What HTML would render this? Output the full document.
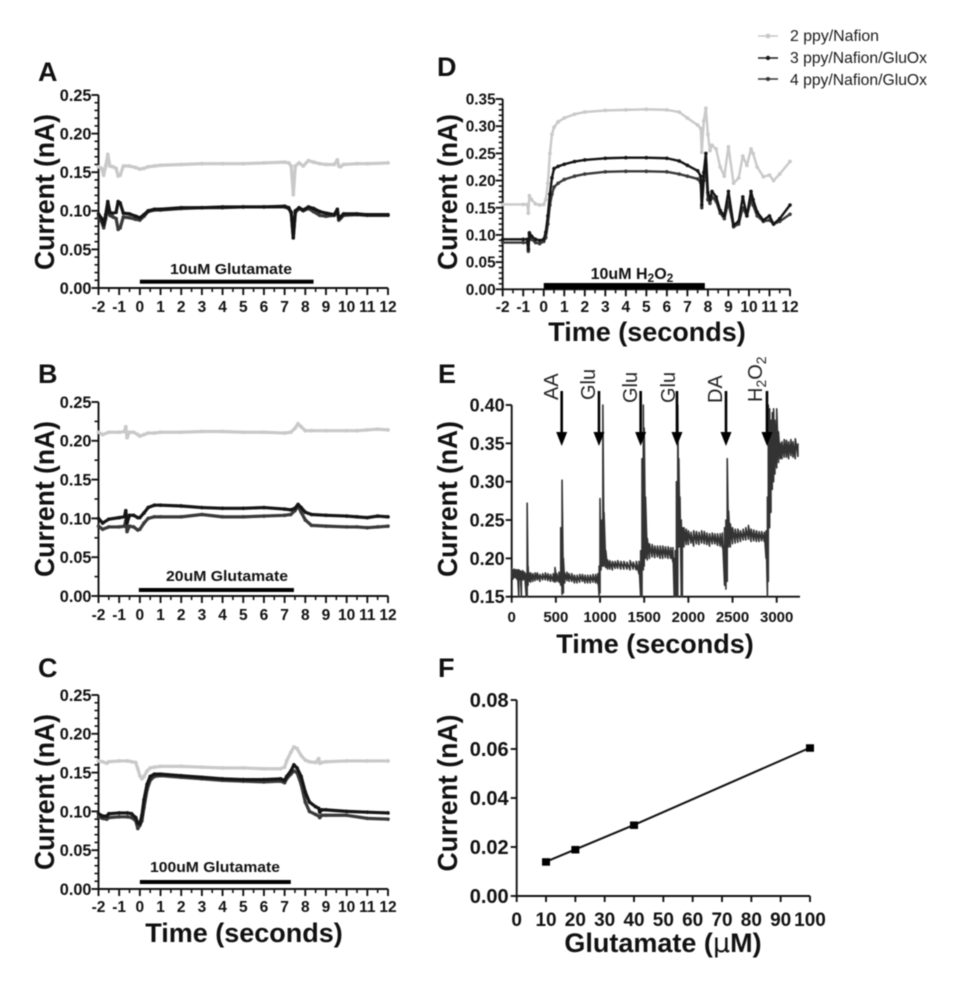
<!DOCTYPE html>
<html>
<head>
<meta charset="utf-8">
<title>Biosensor current recordings</title>
<style>
html,body{margin:0;padding:0;background:#fff;width:954px;height:1000px;overflow:hidden}
svg{display:block;filter:blur(.55px)}
text{font-family:"Liberation Sans",Arial,sans-serif;fill:#111}
.tick{font-weight:bold}
.title{font-weight:bold;font-size:27.5px}
.letter{font-weight:bold;font-size:27px}
.stim{font-weight:bold;font-size:15px}
.legend{font-size:15.8px;fill:#1a1a1a}
.inj{font-size:20px;fill:#222}
</style>
</head>
<body>
<svg id="figure" xmlns="http://www.w3.org/2000/svg" width="954" height="1000" viewBox="0 0 954 1000">
  <rect x="0" y="0" width="954" height="1000" fill="#fff"/>

  <text class="letter" x="38" y="81">A</text>
  <text class="letter" x="38" y="383">B</text>
  <text class="letter" x="38" y="677">C</text>
  <text class="letter" x="437" y="76">D</text>
  <text class="letter" x="438" y="383">E</text>
  <text class="letter" x="438" y="677">F</text>

  <text class="title" transform="translate(54,192) rotate(-90)" text-anchor="middle" textLength="156" lengthAdjust="spacingAndGlyphs">Current (nA)</text>
  <text class="title" transform="translate(54,499) rotate(-90)" text-anchor="middle" textLength="156" lengthAdjust="spacingAndGlyphs">Current (nA)</text>
  <text class="title" transform="translate(54,792) rotate(-90)" text-anchor="middle" textLength="156" lengthAdjust="spacingAndGlyphs">Current (nA)</text>
  <text class="title" transform="translate(457,192) rotate(-90)" text-anchor="middle" textLength="156" lengthAdjust="spacingAndGlyphs">Current (nA)</text>
  <text class="title" transform="translate(457,499) rotate(-90)" text-anchor="middle" textLength="156" lengthAdjust="spacingAndGlyphs">Current (nA)</text>
  <text class="title" transform="translate(457,793) rotate(-90)" text-anchor="middle" textLength="157" lengthAdjust="spacingAndGlyphs">Current (nA)</text>

  <text class="title" x="244" y="942" text-anchor="middle" style="font-size:27px">Time (seconds)</text>
  <text class="title" x="647" y="341" text-anchor="middle" style="font-size:27px">Time (seconds)</text>
  <text class="title" x="655" y="653" text-anchor="middle" style="font-size:27px">Time (seconds)</text>
  <text class="title" x="663" y="952" text-anchor="middle" style="font-size:27px">Glutamate (<tspan font-family="'DejaVu Sans',sans-serif" font-weight="normal">μ</tspan>M)</text>

  <text class="stim" x="231" y="274" text-anchor="middle" textLength="122" lengthAdjust="spacingAndGlyphs">10uM Glutamate</text>
  <text class="stim" x="227" y="581" text-anchor="middle" textLength="122" lengthAdjust="spacingAndGlyphs">20uM Glutamate</text>
  <text class="stim" x="215" y="872" text-anchor="middle" textLength="130" lengthAdjust="spacingAndGlyphs">100uM Glutamate</text>
  <text class="stim" x="632" y="279" text-anchor="middle" style="font-size:16px">10uM H<tspan dy="3" font-size="12">2</tspan><tspan dy="-3">O</tspan><tspan dy="3" font-size="12">2</tspan></text>

  <text class="inj" transform="translate(558,400) rotate(-90)">AA</text>
  <text class="inj" transform="translate(595,400) rotate(-90)">Glu</text>
  <text class="inj" transform="translate(637,403) rotate(-90)">Glu</text>
  <text class="inj" transform="translate(675,403) rotate(-90)">Glu</text>
  <text class="inj" transform="translate(722,403) rotate(-90)">DA</text>
  <text class="inj" transform="translate(762,402) rotate(-90)">H<tspan dy="4" font-size="14">2</tspan><tspan dy="-4">O</tspan><tspan dy="4" font-size="14">2</tspan></text>

  <g>
    <line x1="758" y1="36" x2="778" y2="36" stroke="#c8c8c8" stroke-width="1.5"/>
    <circle cx="768" cy="36" r="2.4" fill="#c8c8c8"/>
    <text class="legend" x="790" y="41" textLength="89" lengthAdjust="spacingAndGlyphs">2 ppy/Nafion</text>
    <line x1="758" y1="58" x2="778" y2="58" stroke="#1a1a1a" stroke-width="1.5"/>
    <circle cx="768" cy="58" r="2.2" fill="#1a1a1a"/>
    <text class="legend" x="790" y="63" textLength="137" lengthAdjust="spacingAndGlyphs">3 ppy/Nafion/GluOx</text>
    <line x1="758" y1="79" x2="778" y2="79" stroke="#333" stroke-width="1.5"/>
    <circle cx="768" cy="79" r="2" fill="#333"/>
    <text class="legend" x="790" y="85" textLength="137" lengthAdjust="spacingAndGlyphs">4 ppy/Nafion/GluOx</text>
  </g>
</svg>

<script>
// ---------- shared axis labels ----------
var timeTicks = [-2,-1,0,1,2,3,4,5,6,7,8,9,10,11,12];
var glutamateYTicks = [0,0.05,0.10,0.15,0.20,0.25];
var peroxideYTicks = [0,0.05,0.10,0.15,0.20,0.25,0.30,0.35];
var amperogramYTicks = [0.15,0.20,0.25,0.30,0.35,0.40];
var amperogramXTicks = [0,500,1000,1500,2000,2500,3000];
var calibrationYTicks = [0,0.02,0.04,0.06,0.08];
var calibrationXTicks = [0,10,20,30,40,50,60,70,80,90,100];

// ---------- panel A: 10 uM glutamate ----------
var aTime = [-2,-1.85,-1.75,-1.65,-1.55,-1.45,-1.3,-1.15,-1.05,-0.95,-0.8,-0.5,-0.2,0,0.2,0.4,0.7,1,2,3,4,5,6,7,7.2,7.32,7.42,7.52,7.7,7.9,8.15,8.4,8.7,9,9.4,9.55,9.62,9.7,9.85,10.5,11,12];
var aPpy2 = [.157,.155,.146,.158,.173,.158,.157,.155,.145,.146,.158,.158,.156,.154,.155,.157,.158,.159,.160,.161,.161,.161,.162,.163,.162,.158,.121,.158,.162,.158,.165,.163,.161,.160,.160,.166,.158,.157,.160,.161,.161,.162];
var aPpy3 = [.096,.090,.082,.095,.112,.098,.097,.098,.112,.110,.097,.096,.093,.091,.095,.100,.102,.102,.104,.104,.105,.105,.105,.106,.104,.098,.065,.100,.104,.101,.105,.103,.099,.097,.095,.102,.090,.092,.096,.096,.095,.095];
var aPpy4 = [.092,.086,.078,.090,.108,.094,.092,.090,.076,.078,.092,.091,.089,.088,.093,.099,.101,.101,.103,.104,.104,.105,.105,.105,.103,.097,.066,.098,.103,.100,.103,.099,.094,.093,.094,.100,.088,.090,.094,.095,.094,.094];
var aStimulus = [0,8.4];

// ---------- panel B: 20 uM glutamate ----------
var bTime = [-2,-1.8,-1.5,-1,-0.75,-0.68,-0.62,-0.5,-0.3,-0.1,0,0.2,0.4,0.7,1,2,3,4,5,6,7,7.3,7.5,7.65,7.8,8,8.3,9,10,10.5,11,11.5,12];
var bPpy2 = [.211,.208,.211,.211,.212,.218,.204,.211,.211,.208,.206,.208,.210,.210,.211,.211,.212,.212,.211,.211,.210,.211,.216,.222,.218,.213,.213,.213,.213,.213,.214,.215,.214];
var bPpy3 = [.100,.094,.099,.101,.102,.110,.094,.104,.104,.101,.101,.107,.114,.117,.117,.116,.114,.113,.113,.114,.112,.111,.113,.118,.114,.108,.105,.104,.103,.102,.101,.103,.102];
var bPpy4 = [.090,.086,.089,.089,.090,.097,.083,.090,.089,.085,.086,.094,.100,.102,.102,.102,.105,.102,.102,.103,.104,.105,.110,.116,.108,.098,.091,.090,.089,.089,.088,.089,.090];
var bStimulus = [-0.05,7.45];

// ---------- panel C: 100 uM glutamate ----------
var cTime = [-2,-1.8,-1.6,-1.5,-1,-0.6,-0.4,-0.2,-0.1,0,0.1,0.2,0.35,0.5,0.7,1,2,3,4,5,6,6.8,7,7.1,7.3,7.45,7.6,7.8,8,8.2,8.5,8.65,8.7,8.8,9,10,11,12];
var cPpy2 = [.165,.164,.162,.164,.165,.165,.164,.163,.155,.146,.142,.145,.152,.156,.157,.158,.158,.157,.156,.156,.155,.155,.157,.165,.176,.183,.181,.172,.166,.164,.163,.168,.162,.163,.164,.165,.165,.165];
var cPpy3 = [.097,.094,.094,.097,.098,.098,.097,.092,.085,.084,.095,.115,.135,.145,.148,.148,.146,.144,.142,.141,.141,.142,.140,.145,.152,.160,.156,.145,.125,.112,.106,.104,.099,.102,.102,.100,.099,.098];
var cPpy4 = [.093,.091,.090,.092,.093,.093,.092,.088,.078,.082,.088,.105,.128,.140,.145,.146,.144,.142,.140,.139,.138,.139,.137,.142,.148,.152,.150,.135,.112,.100,.096,.094,.092,.095,.095,.095,.091,.090];
var cStimulus = [0,7.3];

// ---------- panel D: 10 uM H2O2 ----------
var dTime = [-2,-1,-0.8,-0.75,-0.7,-0.6,-0.4,-0.2,0,0.1,0.2,0.3,0.4,0.5,0.7,1,1.5,2,3,4,5,6,6.6,7,7.5,7.65,7.7,7.8,7.9,8,8.1,8.2,8.4,8.6,8.8,9,9.25,9.5,9.7,9.9,10.1,10.2,10.4,10.7,11,11.2,11.5,12];
var dPpy2 = [.156,.156,.156,.140,.172,.165,.157,.155,.156,.165,.195,.250,.285,.298,.308,.315,.322,.326,.329,.330,.331,.330,.326,.315,.302,.296,.252,.310,.333,.285,.255,.265,.258,.225,.208,.262,.195,.205,.245,.228,.258,.250,.225,.207,.210,.200,.212,.235];
var dPpy3 = [.092,.092,.092,.074,.104,.098,.092,.090,.092,.105,.135,.175,.205,.222,.226,.230,.235,.238,.241,.242,.242,.241,.236,.228,.218,.208,.155,.215,.250,.178,.165,.180,.170,.145,.135,.180,.118,.125,.170,.135,.180,.165,.142,.127,.135,.120,.130,.155];
var dPpy4 = [.086,.086,.086,.070,.100,.092,.086,.084,.088,.095,.120,.155,.175,.188,.195,.202,.208,.212,.216,.217,.217,.216,.212,.208,.203,.196,.150,.200,.228,.165,.158,.170,.162,.140,.130,.160,.115,.120,.150,.135,.165,.155,.135,.125,.127,.120,.125,.138];
var dStimulus = [0,7.85];

// ---------- panel E: amperometric trace (low / high envelope of the noisy signal) ----------
var eTime = [0,15,30,50,65,80,95,110,125,145,165,175,185,195,215,240,265,290,320,350,380,410,440,470,490,510,535,555,570,585,600,625,650,680,710,740,770,800,830,860,890,920,950,975,990,1000,1012,1022,1032,1045,1065,1085,1110,1140,1170,1200,1235,1270,1305,1340,1375,1410,1440,1460,1475,1490,1500,1515,1535,1560,1590,1620,1650,1680,1710,1740,1770,1800,1825,1840,1852,1865,1880,1892,1905,1920,1932,1950,1975,2000,2030,2060,2090,2120,2150,2180,2210,2240,2270,2300,2330,2360,2385,2410,2425,2440,2455,2475,2500,2530,2560,2590,2620,2650,2680,2710,2740,2770,2800,2830,2860,2880,2895,2905,2920,2935,2950,2965,2980,3000,3020,3040,3060,3085,3110,3135,3160,3185,3210,3240];
var eLow = [.174,.173,.175,.174,.172,.150,.172,.150,.172,.172,.150,.150,.165,.170,.169,.170,.171,.172,.170,.172,.172,.171,.170,.170,.169,.170,.169,.165,.153,.155,.168,.171,.170,.170,.168,.168,.169,.170,.168,.168,.168,.169,.168,.167,.150,.155,.185,.190,.190,.190,.188,.186,.186,.185,.187,.187,.186,.186,.186,.185,.186,.185,.180,.150,.150,.185,.190,.200,.198,.200,.202,.201,.202,.200,.200,.201,.200,.200,.195,.150,.150,.150,.150,.215,.215,.150,.150,.215,.218,.218,.220,.216,.219,.218,.220,.219,.218,.216,.219,.219,.217,.216,.214,.165,.160,.170,.215,.215,.219,.220,.221,.222,.224,.224,.225,.222,.223,.222,.222,.223,.222,.200,.150,.170,.240,.260,.290,.300,.310,.318,.325,.330,.330,.332,.332,.330,.334,.332,.330,.333];
var eHigh = [.187,.185,.186,.185,.185,.185,.184,.183,.184,.182,.180,.272,.190,.181,.181,.180,.181,.181,.179,.180,.181,.180,.179,.180,.188,.180,.182,.240,.302,.200,.181,.182,.180,.180,.178,.178,.179,.179,.178,.178,.178,.179,.179,.180,.190,.278,.200,.250,.400,.260,.210,.198,.197,.196,.196,.197,.196,.196,.195,.197,.195,.196,.196,.210,.330,.400,.370,.280,.226,.219,.218,.216,.216,.216,.216,.215,.215,.214,.214,.200,.210,.300,.400,.330,.280,.250,.240,.240,.238,.236,.234,.236,.235,.234,.236,.235,.233,.232,.233,.232,.232,.232,.233,.240,.250,.330,.262,.245,.240,.238,.238,.236,.238,.240,.243,.238,.237,.236,.235,.235,.234,.236,.280,.400,.395,.380,.390,.395,.380,.395,.365,.350,.352,.355,.354,.352,.355,.352,.356,.350];
var eInjections = [566,988,1460,1871,2426,2890];

// ---------- panel F: calibration ----------
var fConcentration = [10,20,40,100];
var fCurrent = [0.014,0.019,0.029,0.0605];

var NS = 'http://www.w3.org/2000/svg';
var figure = document.getElementById('figure');

function add(tag, parent, attrs) {
  var el = document.createElementNS(NS, tag);
  for (var k in attrs) el.setAttribute(k, attrs[k]);
  parent.appendChild(el);
  return el;
}

function scale(d0, d1, r0, r1) {
  return function (v) { return r0 + (v - d0) * (r1 - r0) / (d1 - d0); };
}

function drawAxes(p) {
  var g = add('g', figure, {});
  
  

  var yLine = add('line', g, {x1: p.x0, y1: p.yTop, x2: p.x0, y2: p.yBase + 1, stroke: '#111', 'stroke-width': p.axisW});
  
  

  var xLine = add('line', g, {x1: p.x0 - 1, y1: p.yBase, x2: p.xEnd, y2: p.yBase, stroke: '#111', 'stroke-width': p.axisW});
  
  

  p.yTicks.forEach(function (v, i) {
    var y = p.sy(v);
    var t = add('line', g, {x1: p.x0 - p.major, y1: y, x2: p.x0, y2: y, stroke: '#111', 'stroke-width': p.axisW});
    
    
    var lab = add('text', g, {x: p.x0 - p.major - p.yGap, y: y + p.yFont * 0.36, 'text-anchor': 'end', 'class': 'tick', 'font-size': p.yFont});
    lab.textContent = v.toFixed(2);
    
    
    if (i < p.yTicks.length - 1 && p.yMinor > 0) {
      var next = p.yTicks[i + 1];
      for (var m = 1; m < p.yMinor; m++) {
        var my = p.sy(v + (next - v) * m / p.yMinor);
        var mt = add('line', g, {x1: p.x0 - 4, y1: my, x2: p.x0, y2: my, stroke: '#111', 'stroke-width': p.axisW * 0.85});
        
        
      }
    }
  });

  p.xTicks.forEach(function (v, i) {
    var x = p.sx(v);
    var t = add('line', g, {x1: x, y1: p.yBase, x2: x, y2: p.yBase + p.major, stroke: '#111', 'stroke-width': p.axisW});
    
    
    var lab = add('text', g, {x: x, y: p.xLabelY, 'text-anchor': 'middle', 'class': 'tick', 'font-size': p.xFont});
    lab.textContent = String(v);
    
    
    if (i < p.xTicks.length - 1 && p.xMinor) {
      var mx = p.sx((v + p.xTicks[i + 1]) / 2);
      var mt = add('line', g, {x1: mx, y1: p.yBase, x2: mx, y2: p.yBase + 4, stroke: '#111', 'stroke-width': p.axisW * 0.85});
      
      
    }
  });
}

function drawSeries(p, name, xs, ys, color, w, r) {
  var g = add('g', figure, {});
  
  
  var d = '';
  xs.forEach(function (x, i) {
    d += (i ? 'L' : 'M') + p.sx(x).toFixed(2) + ' ' + p.sy(ys[i]).toFixed(2);
  });
  var path = add('path', g, {d: d, fill: 'none', stroke: color, 'stroke-width': w, 'stroke-linejoin': 'round'});
  
  
  xs.forEach(function (x, i) {
    var c = add('circle', g, {cx: p.sx(x), cy: p.sy(ys[i]), r: r, fill: color});
    
    
  });
}

function drawStimulus(p, range, y, h) {
  var r = add('rect', figure, {x: p.sx(range[0]), y: y - h / 2, width: p.sx(range[1]) - p.sx(range[0]), height: h, fill: '#000'});
  
  
}

function timePanel(id, x0, xEnd, yTop, yBase, yMax, yTicks, yMinor, xLabelY, yFont) {
  return {
    id: id, x0: x0, xEnd: xEnd, yTop: yTop, yBase: yBase,
    sx: scale(-2, 12, x0, xEnd), sy: scale(0, yMax, yBase, yTop),
    xTicks: timeTicks, yTicks: yTicks, yMinor: yMinor, xMinor: true,
    axisW: 1.9, major: 7, yGap: 0, yFont: yFont, xFont: 15.5, xLabelY: xLabelY
  };
}

var panelA = timePanel('panel-a', 98.5, 388, 95, 288, 0.25, glutamateYTicks, 5, 312, 16.3);
var panelB = timePanel('panel-b', 98.5, 388, 402, 596, 0.25, glutamateYTicks, 2, 620, 16.3);
var panelC = timePanel('panel-c', 98.5, 388, 695, 889, 0.25, glutamateYTicks, 5, 912, 16.3);
var panelD = timePanel('panel-d', 502.7, 790, 99, 289.3, 0.35, peroxideYTicks, 5, 312, 15.4);

[
  [panelA, aTime, aPpy2, aPpy3, aPpy4, aStimulus, 281.7, 4],
  [panelB, bTime, bPpy2, bPpy3, bPpy4, bStimulus, 590, 4],
  [panelC, cTime, cPpy2, cPpy3, cPpy4, cStimulus, 882, 4],
  [panelD, dTime, dPpy2, dPpy3, dPpy4, dStimulus, 286, 6]
].forEach(function (a) {
  var p = a[0];
  drawAxes(p);
  var thin = p.id === 'panel-d' ? 0.75 : 1;
  drawSeries(p, 'ppy-2', a[1], a[2], '#c9c9c9', 3.2 * thin, 1.9);
  drawSeries(p, 'ppy-4', a[1], a[4], '#3a3a3a', 3.2 * thin, 1.8);
  drawSeries(p, 'ppy-3', a[1], a[3], '#151515', 3.2 * thin, 1.8);
  drawStimulus(p, a[5], a[6], a[7]);
});

// Panel E
var panelE = {
  id: 'panel-e', x0: 511.7, xEnd: 800, yTop: 405, yBase: 596.7,
  sx: scale(0, 3000, 511.7, 776.7), sy: scale(0.15, 0.40, 596.7, 405),
  xTicks: amperogramXTicks, yTicks: amperogramYTicks, yMinor: 0, xMinor: false,
  axisW: 1.9, major: 6, yGap: 1, yFont: 18, xFont: 15, xLabelY: 622
};
drawAxes(panelE);
var eD = '';
eTime.forEach(function (t, i) {
  var x = panelE.sx(t).toFixed(2);
  eD += (i ? 'L' : 'M') + x + ' ' + panelE.sy(eLow[i]).toFixed(2) + 'L' + x + ' ' + panelE.sy(eHigh[i]).toFixed(2);
});
var eTrace = add('path', figure, {d: eD, fill: 'none', stroke: '#333', 'stroke-width': 1.6, 'stroke-linejoin': 'round'});



eInjections.forEach(function (t) {
  var x = panelE.sx(t);
  var g = add('g', figure, {});
  
  
  add('line', g, {x1: x, y1: 391, x2: x, y2: 434, stroke: '#000', 'stroke-width': 2.6});
  add('polygon', g, {points: (x - 5.5) + ',432 ' + (x + 5.5) + ',432 ' + x + ',446', fill: '#000'});
});

// Panel F
var panelF = {
  id: 'panel-f', x0: 516.7, xEnd: 810, yTop: 700, yBase: 896,
  sx: scale(0, 100, 516.7, 810), sy: scale(0, 0.08, 896, 700),
  xTicks: calibrationXTicks, yTicks: calibrationYTicks, yMinor: 0, xMinor: false,
  axisW: 1.9, major: 6, yGap: 2, yFont: 20, xFont: 19, xLabelY: 926
};
drawAxes(panelF);
var fD = '';
fConcentration.forEach(function (c, i) {
  fD += (i ? 'L' : 'M') + panelF.sx(c).toFixed(2) + ' ' + panelF.sy(fCurrent[i]).toFixed(2);
});
var fLine = add('path', figure, {d: fD, fill: 'none', stroke: '#111', 'stroke-width': 2});


fConcentration.forEach(function (c, i) {
  var s = add('rect', figure, {x: panelF.sx(c) - 4, y: panelF.sy(fCurrent[i]) - 3.5, width: 8, height: 7.5, fill: '#000'});
  
  
});
</script>
</body>
</html>
